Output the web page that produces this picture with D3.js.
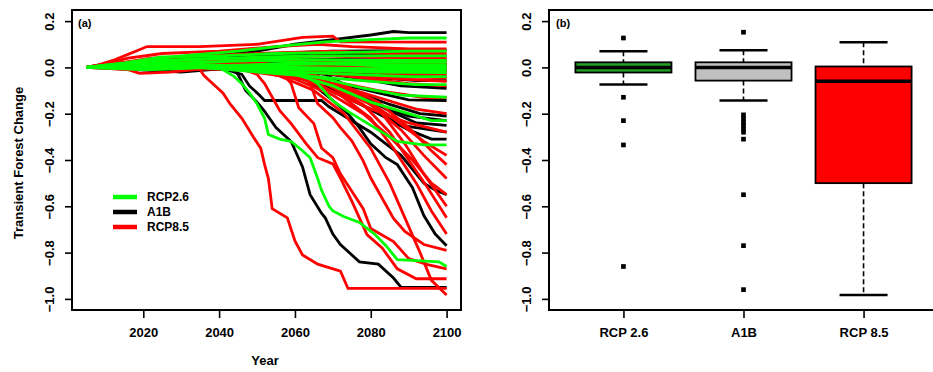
<!DOCTYPE html>
<html>
<head>
<meta charset="utf-8">
<script src="https://cdn.jsdelivr.net/npm/d3@7"></script>
<style>
  body { margin: 0; background: #fff; }
  text { font-family: "Liberation Sans", Arial, sans-serif; font-weight: bold; fill: #000; }
</style>
</head>
<body>
<div id="chart"></div>
<script>
// ---- data ----
const yTicks = [-1.0, -0.8, -0.6, -0.4, -0.2, 0.0, 0.2];
const yearTicks = [2020, 2040, 2060, 2080, 2100];
const legendLabels = ["RCP2.6", "A1B", "RCP8.5"];
const seriesColors = ["#00ff00", "#000000", "#ff0000"];

// each line: [year, transient forest change] break points
const rcp26Lines = [
  [[2005,0],[2012,0.01],[2020,0.03],[2030,0.05],[2045,0.07],[2055,0.09],[2068,0.11],[2080,0.12],[2090,0.127],[2100,0.127]],
  [[2005,0],[2015,0.02],[2025,0.045],[2040,0.05],[2055,0.06],[2075,0.065],[2090,0.07],[2100,0.07]],
  [[2005,0],[2018,0.015],[2030,0.03],[2050,0.045],[2070,0.05],[2100,0.05]],
  [[2005,0],[2010,0.01],[2024,0.03],[2040,0.04],[2060,0.035],[2080,0.03],[2100,0.03]],
  [[2005,0],[2030,0.005],[2045,0.01],[2065,0.02],[2085,0.022],[2100,0.022]],
  [[2005,0],[2020,-0.01],[2035,0.0],[2050,0.01],[2070,0.015],[2090,0.01],[2100,0.01]],
  [[2005,0],[2025,0.02],[2040,0.01],[2060,0.0],[2080,-0.005],[2100,0]],
  [[2005,0],[2015,0.005],[2030,0.02],[2050,0.03],[2065,0.02],[2085,0.005],[2100,0]],
  [[2005,0],[2022,-0.01],[2038,0.0],[2055,-0.005],[2075,-0.01],[2100,-0.01]],
  [[2005,0],[2030,0.01],[2045,0.0],[2062,-0.01],[2080,-0.02],[2100,-0.022]],
  [[2005,0],[2020,0.01],[2040,-0.005],[2060,-0.02],[2075,-0.03],[2090,-0.04],[2100,-0.04]],
  [[2005,0],[2035,0.0],[2050,-0.02],[2065,-0.04],[2080,-0.06],[2092,-0.074],[2100,-0.074]],
  [[2005,0],[2040,0.0],[2058,-0.02],[2068,-0.05],[2078,-0.09],[2088,-0.12],[2100,-0.129]],
  [[2005,0],[2042,0.0],[2060,-0.03],[2070,-0.08],[2080,-0.15],[2090,-0.2],[2096,-0.23],[2100,-0.23]],
  [[2005,0],[2030,0.01],[2050,0.0],[2062,-0.03],[2066,-0.07],[2070,-0.145],[2074,-0.19],[2081,-0.26],[2087,-0.32],[2094,-0.335],[2100,-0.335]],
  [[2005,0],[2025,0.01],[2040,0.0],[2044,-0.04],[2046,-0.07],[2048,-0.11],[2050,-0.157],[2052,-0.22],[2053,-0.29],[2056,-0.31],[2059,-0.32],[2062,-0.36],[2064,-0.39],[2066,-0.48],[2067,-0.53],[2069,-0.6],[2070,-0.62],[2073,-0.645],[2077,-0.67],[2081,-0.72],[2084,-0.77],[2087,-0.83],[2092,-0.835],[2098,-0.84],[2100,-0.86]]
];

const a1bLines = [
  [[2005,0],[2010,0.01],[2020,0.03],[2035,0.05],[2050,0.07],[2060,0.1],[2070,0.12],[2080,0.14],[2086,0.155],[2090,0.15],[2100,0.15]],
  [[2005,0],[2012,0.015],[2025,0.04],[2040,0.05],[2055,0.06],[2070,0.07],[2100,0.074]],
  [[2005,0],[2008,0.01],[2020,0.02],[2035,0.035],[2052,0.05],[2075,0.06],[2090,0.05],[2100,0.05]],
  [[2005,0],[2015,0.01],[2030,0.03],[2050,0.04],[2070,0.035],[2100,0.03]],
  [[2005,0],[2020,0.02],[2040,0.015],[2060,0.025],[2080,0.02],[2100,0.022]],
  [[2005,0],[2018,-0.01],[2030,-0.02],[2045,0.0],[2065,0.01],[2100,0.015]],
  [[2005,0],[2025,0.005],[2045,0.02],[2070,0.015],[2100,0.01]],
  [[2005,0],[2010,0.005],[2030,0.01],[2055,0.0],[2080,0.005],[2100,0]],
  [[2005,0],[2020,0.015],[2040,0.02],[2060,0.01],[2085,0.0],[2100,0]],
  [[2005,0],[2025,-0.005],[2050,-0.01],[2075,0.0],[2090,-0.01],[2100,-0.01]],
  [[2005,0],[2032,0.01],[2055,0.0],[2075,-0.01],[2090,-0.02],[2100,-0.02]],
  [[2005,0],[2030,0.0],[2050,-0.01],[2070,-0.02],[2085,-0.03],[2100,-0.04]],
  [[2005,0],[2040,0.0],[2060,-0.02],[2078,-0.04],[2092,-0.057],[2100,-0.057]],
  [[2005,0],[2045,0.0],[2065,-0.02],[2078,-0.05],[2088,-0.08],[2100,-0.09]],
  [[2005,0],[2040,0.0],[2060,-0.03],[2072,-0.07],[2082,-0.11],[2090,-0.14],[2100,-0.143]],
  [[2005,0],[2050,0.0],[2065,-0.04],[2075,-0.1],[2085,-0.16],[2093,-0.2],[2100,-0.21]],
  [[2005,0],[2045,0.01],[2060,-0.02],[2070,-0.08],[2080,-0.15],[2090,-0.21],[2100,-0.23]],
  [[2005,0],[2050,0.02],[2068,-0.03],[2076,-0.1],[2084,-0.18],[2092,-0.24],[2100,-0.25]],
  [[2005,0],[2048,0.0],[2062,-0.05],[2072,-0.12],[2080,-0.18],[2088,-0.25],[2100,-0.28]],
  [[2005,0],[2052,0.0],[2066,-0.06],[2074,-0.13],[2082,-0.2],[2090,-0.27],[2096,-0.31],[2100,-0.31]],
  [[2005,0],[2040,0.0],[2046,-0.03],[2048,-0.08],[2050,-0.11],[2052,-0.143],[2067,-0.143],[2069,-0.17],[2072,-0.2],[2076,-0.24],[2080,-0.28],[2084,-0.33],[2088,-0.38],[2091,-0.44],[2094,-0.5],[2097,-0.53],[2100,-0.55]],
  [[2005,0],[2040,0.01],[2058,0.0],[2063,-0.04],[2066,-0.09],[2070,-0.143],[2074,-0.2],[2077,-0.26],[2080,-0.33],[2084,-0.39],[2087,-0.42],[2091,-0.52],[2094,-0.64],[2097,-0.72],[2100,-0.77]],
  [[2005,0],[2030,0.01],[2043,0.0],[2045,-0.03],[2047,-0.1],[2050,-0.15],[2052,-0.19],[2055,-0.26],[2059,-0.32],[2062,-0.43],[2064,-0.55],[2067,-0.63],[2068,-0.65],[2070,-0.72],[2072,-0.765],[2077,-0.84],[2082,-0.85],[2086,-0.91],[2088,-0.95],[2100,-0.95]]
];

const rcp85Lines = [
  [[2005,0],[2008,0.01],[2012,0.03],[2015,0.05],[2018,0.07],[2021,0.09],[2035,0.09],[2050,0.1],[2062,0.13],[2070,0.135],[2072,0.11],[2100,0.109]],
  [[2005,0],[2010,0.015],[2016,0.04],[2025,0.06],[2040,0.07],[2055,0.09],[2066,0.1],[2075,0.09],[2090,0.08],[2100,0.08]],
  [[2005,0],[2014,0.02],[2022,0.04],[2035,0.05],[2050,0.06],[2070,0.07],[2085,0.06],[2100,0.06]],
  [[2005,0],[2010,0.01],[2025,0.03],[2045,0.035],[2065,0.05],[2080,0.045],[2100,0.04]],
  [[2005,0],[2012,0.005],[2020,0.02],[2040,0.025],[2060,0.03],[2085,0.02],[2100,0.02]],
  [[2005,0],[2016,-0.01],[2019,-0.026],[2027,-0.02],[2040,0.0],[2060,0.01],[2100,0.005]],
  [[2005,0],[2022,0.01],[2040,0.02],[2060,0.01],[2080,0.0],[2100,0]],
  [[2005,0],[2018,0.005],[2035,0.015],[2055,0.0],[2075,-0.005],[2100,-0.01]],
  [[2005,0],[2025,0.0],[2045,0.01],[2065,-0.01],[2085,-0.02],[2100,-0.02]],
  [[2005,0],[2015,0.02],[2030,0.03],[2050,0.02],[2070,-0.01],[2088,-0.03],[2100,-0.03]],
  [[2005,0],[2030,0.005],[2050,-0.01],[2070,-0.025],[2085,-0.04],[2100,-0.045]],
  [[2005,0],[2035,0.0],[2055,-0.01],[2072,-0.03],[2088,-0.05],[2100,-0.06]],
  [[2005,0],[2040,0.01],[2060,-0.01],[2075,-0.04],[2090,-0.07],[2100,-0.08]],
  [[2005,0],[2038,0.0],[2058,-0.02],[2070,-0.06],[2082,-0.1],[2094,-0.13],[2100,-0.13]],
  [[2005,0],[2040,0.0],[2060,-0.03],[2072,-0.08],[2082,-0.13],[2092,-0.18],[2100,-0.2]],
  [[2005,0],[2045,-0.01],[2062,-0.05],[2072,-0.12],[2080,-0.18],[2090,-0.24],[2100,-0.28]],
  [[2005,0],[2048,0.0],[2066,-0.06],[2078,-0.13],[2086,-0.22],[2094,-0.32],[2100,-0.38]],
  [[2005,0],[2045,0.01],[2060,-0.02],[2072,-0.07],[2082,-0.15],[2090,-0.26],[2096,-0.36],[2100,-0.42]],
  [[2005,0],[2050,0.0],[2070,-0.08],[2080,-0.16],[2088,-0.27],[2094,-0.38],[2100,-0.48]],
  [[2005,0],[2045,0.0],[2060,-0.05],[2070,-0.12],[2078,-0.2],[2085,-0.3],[2091,-0.4],[2096,-0.5],[2100,-0.55]],
  [[2005,0],[2050,0.01],[2065,-0.03],[2075,-0.1],[2083,-0.2],[2089,-0.33],[2094,-0.46],[2100,-0.6]],
  [[2005,0],[2052,0.0],[2068,-0.07],[2078,-0.16],[2085,-0.28],[2090,-0.4],[2095,-0.52],[2100,-0.65]],
  [[2005,0],[2048,0.0],[2062,-0.04],[2072,-0.12],[2080,-0.22],[2086,-0.35],[2092,-0.5],[2096,-0.62],[2100,-0.72]],
  [[2005,0],[2040,0.01],[2055,0.0],[2062,-0.03],[2064,-0.07],[2066,-0.157],[2070,-0.217],[2072,-0.26],[2075,-0.317],[2078,-0.404],[2080,-0.478],[2083,-0.565],[2086,-0.652],[2089,-0.709],[2094,-0.765],[2100,-0.79]],
  [[2005,0],[2035,0.0],[2050,-0.01],[2057,-0.03],[2059,-0.07],[2061,-0.174],[2065,-0.243],[2067,-0.348],[2070,-0.39],[2072,-0.46],[2075,-0.535],[2078,-0.61],[2080,-0.696],[2086,-0.752],[2090,-0.826],[2095,-0.852],[2100,-0.87]],
  [[2005,0],[2030,0.01],[2045,0.0],[2050,-0.03],[2052,-0.07],[2056,-0.187],[2059,-0.243],[2063,-0.33],[2066,-0.39],[2070,-0.417],[2072,-0.478],[2075,-0.578],[2079,-0.722],[2083,-0.78],[2087,-0.87],[2092,-0.913],[2100,-0.913]],
  [[2005,0],[2020,0.02],[2030,0.0],[2035,-0.01],[2036,-0.035],[2039,-0.08],[2041,-0.11],[2043,-0.16],[2046,-0.22],[2049,-0.3],[2051,-0.35],[2052,-0.42],[2053,-0.48],[2054,-0.61],[2058,-0.65],[2060,-0.75],[2062,-0.81],[2066,-0.85],[2072,-0.88],[2074,-0.955],[2100,-0.955]],
  [[2005,0],[2045,0.0],[2055,-0.03],[2065,-0.1],[2073,-0.2],[2080,-0.35],[2085,-0.5],[2089,-0.65],[2093,-0.8],[2096,-0.92],[2100,-0.983]]
];

// boxplot panel (b)
const boxCategories = ["RCP 2.6", "A1B", "RCP 8.5"];
const boxFills = ["#22a022", "#c0c0c0", "#ff0000"];
const whiskerLow = [-0.074, -0.143, -0.983];
const quartile1 = [-0.022, -0.057, -0.50];
const medians = [0.0, 0.0, -0.06];
const quartile3 = [0.022, 0.022, 0.004];
const whiskerHigh = [0.07, 0.074, 0.109];
const outliers = [
  [0.127, -0.129, -0.23, -0.335, -0.86],
  [0.152, -0.205, -0.22, -0.235, -0.25, -0.265, -0.28, -0.31, -0.55, -0.77, -0.96],
  []
];

// ---- drawing ----
const width = 933, height = 372;
const plotTop = 10, plotBottom = 310;

const svg = d3.select("#chart").append("svg")
  .attr("width", width)
  .attr("height", height);
svg.append("rect").attr("width", width).attr("height", height).attr("fill", "#fff");

const y = d3.scaleLinear().domain([-1.048, 0.248]).range([plotBottom, plotTop]);
const x = d3.scaleLinear().domain([2001.2, 2103.8]).range([72, 461]);
const xb = d3.scaleLinear().domain([0.38, 3.62]).range([549, 938]);

function yAxis(g, left) {
  g.attr("transform", `translate(${left},0)`)
    .call(d3.axisLeft(y).tickValues(yTicks).tickSize(7).tickFormat(d3.format(".1f")));
  g.select(".domain").remove();
  g.selectAll(".tick line").attr("stroke-width", 1.6);
  g.selectAll(".tick text")
    .attr("x", 0).attr("dy", 0)
    .attr("text-anchor", "middle")
    .attr("transform", "translate(-18,0) rotate(-90)")
    .style("font-size", "13px");
}

// panel (a)
const pa = svg.append("g");
const line = d3.line().x(d => x(d[0])).y(d => y(d[1])).curve(d3.curveLinear);

const groups = [
  { lines: a1bLines, color: seriesColors[1] },
  { lines: rcp85Lines, color: seriesColors[2] },
  { lines: rcp26Lines, color: seriesColors[0] }
];
groups.forEach(grp => {
  pa.append("g").selectAll("path")
    .data(grp.lines)
    .enter()
    .append("path")
    .attr("d", line)
    .attr("fill", "none")
    .attr("stroke", grp.color)
    .attr("stroke-width", 2.8)
    .attr("stroke-linejoin", "miter");
});

pa.append("rect")
  .attr("x", x.range()[0]).attr("y", plotTop)
  .attr("width", x.range()[1] - x.range()[0]).attr("height", plotBottom - plotTop)
  .attr("fill", "none").attr("stroke", "#000").attr("stroke-width", 2);

pa.append("g").call(g => yAxis(g, x.range()[0]));

const xAxisA = pa.append("g")
  .attr("transform", `translate(0,${plotBottom})`)
  .call(d3.axisBottom(x).tickValues(yearTicks).tickSize(8).tickFormat(d3.format("d")));
xAxisA.select(".domain").remove();
xAxisA.selectAll(".tick line").attr("stroke-width", 1.6);
xAxisA.selectAll(".tick text").attr("y", 27).attr("dy", 0).style("font-size", "13px");

pa.append("text").attr("x", 265).attr("y", 365).attr("text-anchor", "middle")
  .style("font-size", "13px").text("Year");
pa.append("text").attr("transform", "translate(23,163) rotate(-90)").attr("text-anchor", "middle")
  .style("font-size", "13px").text("Transient Forest Change");
pa.append("text").attr("x", 78).attr("y", 27).style("font-size", "11px").text("(a)");

// legend
const legend = pa.append("g");
legendLabels.forEach((lab, i) => {
  const ly = 197 + i * 15;
  legend.append("line").attr("x1", 113).attr("x2", 137).attr("y1", ly).attr("y2", ly)
    .attr("stroke", seriesColors[i]).attr("stroke-width", 4.5);
  legend.append("text").attr("x", 147).attr("y", ly).attr("dy", "0.35em")
    .style("font-size", "12px").text(lab);
});

// panel (b)
const pb = svg.append("g");
const boxW = 0.8;
const stats = boxCategories.map((c, i) => ({
  i: i + 1, lo: whiskerLow[i], q1: quartile1[i], med: medians[i],
  q3: quartile3[i], hi: whiskerHigh[i], out: outliers[i], fill: boxFills[i]
}));

const bx = pb.selectAll("g.box").data(stats).enter().append("g").attr("class", "box");
bx.append("line")
  .attr("x1", d => xb(d.i)).attr("x2", d => xb(d.i))
  .attr("y1", d => y(d.hi)).attr("y2", d => y(d.q3))
  .attr("stroke", "#000").attr("stroke-width", 1.6).attr("stroke-dasharray", "5,3");
bx.append("line")
  .attr("x1", d => xb(d.i)).attr("x2", d => xb(d.i))
  .attr("y1", d => y(d.q1)).attr("y2", d => y(d.lo))
  .attr("stroke", "#000").attr("stroke-width", 1.6).attr("stroke-dasharray", "5,3");
bx.append("line")
  .attr("x1", d => xb(d.i - boxW / 4)).attr("x2", d => xb(d.i + boxW / 4))
  .attr("y1", d => y(d.hi)).attr("y2", d => y(d.hi))
  .attr("stroke", "#000").attr("stroke-width", 2.4);
bx.append("line")
  .attr("x1", d => xb(d.i - boxW / 4)).attr("x2", d => xb(d.i + boxW / 4))
  .attr("y1", d => y(d.lo)).attr("y2", d => y(d.lo))
  .attr("stroke", "#000").attr("stroke-width", 2.4);
bx.append("rect")
  .attr("x", d => xb(d.i - boxW / 2)).attr("width", d => xb(d.i + boxW / 2) - xb(d.i - boxW / 2))
  .attr("y", d => y(d.q3)).attr("height", d => y(d.q1) - y(d.q3))
  .attr("fill", d => d.fill).attr("stroke", "#000").attr("stroke-width", 1.8);
bx.append("line")
  .attr("x1", d => xb(d.i - boxW / 2)).attr("x2", d => xb(d.i + boxW / 2))
  .attr("y1", d => y(d.med)).attr("y2", d => y(d.med))
  .attr("stroke", "#000").attr("stroke-width", 3.5);
bx.selectAll("path.out").data(d => d.out.map(v => [d.i, v])).enter()
  .append("path").attr("class", "out")
  .attr("transform", d => `translate(${xb(d[0])},${y(d[1])})`)
  .attr("d", d3.symbol(d3.symbolSquare, 22))
  .attr("fill", "#000");

pb.append("rect")
  .attr("x", xb.range()[0]).attr("y", plotTop)
  .attr("width", xb.range()[1] - xb.range()[0]).attr("height", plotBottom - plotTop)
  .attr("fill", "none").attr("stroke", "#000").attr("stroke-width", 2);

pb.append("g").call(g => yAxis(g, xb.range()[0]));

const xAxisB = pb.append("g")
  .attr("transform", `translate(0,${plotBottom})`)
  .call(d3.axisBottom(xb).tickValues([1, 2, 3]).tickSize(8).tickFormat((d, i) => boxCategories[i]));
xAxisB.select(".domain").remove();
xAxisB.selectAll(".tick line").attr("stroke-width", 1.6);
xAxisB.selectAll(".tick text").attr("y", 27).attr("dy", 0).style("font-size", "13px");

pb.append("text").attr("x", 556).attr("y", 27).style("font-size", "11px").text("(b)");
</script>
</body>
</html>
